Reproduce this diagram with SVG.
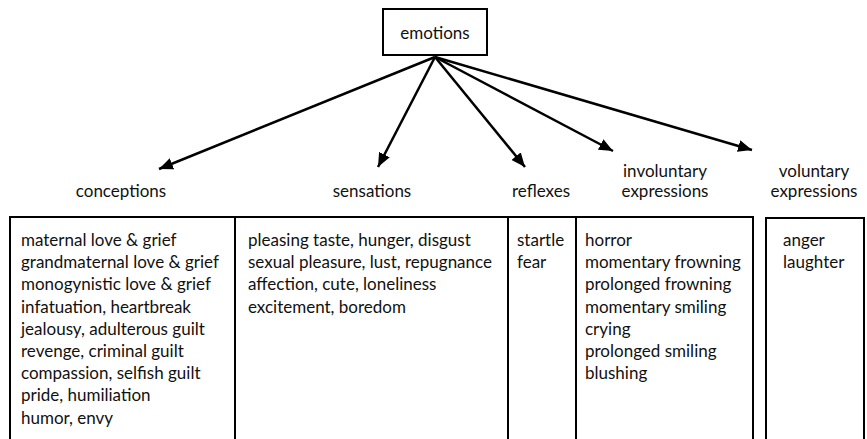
<svg xmlns="http://www.w3.org/2000/svg" width="867" height="439" viewBox="0 0 867 439">
<style>
text{font-family:Lato,"Open Sans","DejaVu Sans",sans-serif;font-size:17px;fill:#111}
.c{text-anchor:middle}
.box{fill:#fff;stroke:#000;stroke-width:2}
.con{stroke:#000;stroke-width:2.5;fill:none}
.div{stroke:#000;stroke-width:2}
</style>
<defs>
<marker id="ah" markerUnits="userSpaceOnUse" markerWidth="14" markerHeight="12" refX="14" refY="6" orient="auto">
<path d="M0,0 L14,6 L0,12 z" fill="#000"/>
</marker>
</defs>
<rect width="867" height="439" fill="#fff"/>
<g id="connectors">
<line class="con" x1="435" y1="57" x2="159" y2="169" marker-end="url(#ah)"/>
<line class="con" x1="435" y1="57" x2="378" y2="167" marker-end="url(#ah)"/>
<line class="con" x1="435" y1="57" x2="525" y2="167" marker-end="url(#ah)"/>
<line class="con" x1="435" y1="57" x2="613" y2="151" marker-end="url(#ah)"/>
<line class="con" x1="435" y1="57" x2="752" y2="150" marker-end="url(#ah)"/>
</g>
<g id="emotions">
<rect class="box" x="383" y="9" width="104" height="46"/>
<text class="c" x="435" y="39">emotions</text>
</g>
<g id="table">
<rect class="box" x="10" y="217" width="743" height="240"/>
<line class="div" x1="235" y1="217" x2="235" y2="439"/>
<line class="div" x1="508" y1="217" x2="508" y2="439"/>
<line class="div" x1="576" y1="217" x2="576" y2="439"/>
</g>
<g id="conceptions">
<text class="c" x="121" y="197">conceptions</text>
<text x="21"><tspan x="21" y="246">maternal love &amp; grief</tspan><tspan x="21" y="268.2">grandmaternal love &amp; grief</tspan><tspan x="21" y="290.4">monogynistic love &amp; grief</tspan><tspan x="21" y="312.6">infatuation, heartbreak</tspan><tspan x="21" y="334.8">jealousy, adulterous guilt</tspan><tspan x="21" y="357">revenge, criminal guilt</tspan><tspan x="21" y="379.2">compassion, selfish guilt</tspan><tspan x="21" y="401.4">pride, humiliation</tspan><tspan x="21" y="423.6">humor, envy</tspan></text>
</g>
<g id="sensations">
<text class="c" x="372" y="197">sensations</text>
<text x="248"><tspan x="248" y="246">pleasing taste, hunger, disgust</tspan><tspan x="248" y="268.2">sexual pleasure, lust, repugnance</tspan><tspan x="248" y="290.4">affection, cute, loneliness</tspan><tspan x="248" y="312.6">excitement, boredom</tspan></text>
</g>
<g id="reflexes">
<text class="c" x="541" y="197">reflexes</text>
<text x="517"><tspan x="517" y="246">startle</tspan><tspan x="517" y="268.2">fear</tspan></text>
</g>
<g id="involuntary">
<text class="c" x="665" y="177">involuntary</text>
<text class="c" x="665" y="197">expressions</text>
<text x="585"><tspan x="585" y="246">horror</tspan><tspan x="585" y="268.2">momentary frowning</tspan><tspan x="585" y="290.4">prolonged frowning</tspan><tspan x="585" y="312.6">momentary smiling</tspan><tspan x="585" y="334.8">crying</tspan><tspan x="585" y="357">prolonged smiling</tspan><tspan x="585" y="379.2">blushing</tspan></text>
</g>
<g id="voluntary">
<text class="c" x="814" y="177">voluntary</text>
<text class="c" x="814" y="197">expressions</text>
<rect class="box" x="766" y="218" width="98" height="240"/>
<text x="783"><tspan x="783" y="246">anger</tspan><tspan x="783" y="268.2">laughter</tspan></text>
</g>
</svg>
